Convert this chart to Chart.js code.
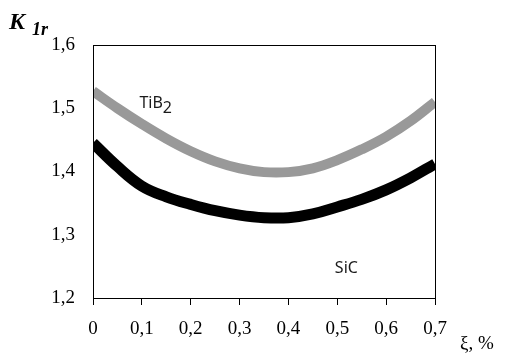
<!DOCTYPE html>
<html>
<head>
<meta charset="utf-8">
<script src="https://cdn.jsdelivr.net/npm/chart.js@4/dist/chart.umd.min.js"></script>
<style>
    html, body { margin: 0; padding: 0; background: #fff; }
    #wrap { width: 515px; height: 362px; }
</style>
</head>
<body>
<div id="wrap"><canvas id="k1rChart"></canvas></div>
<script>
const xi = [0, 0.05, 0.1, 0.15, 0.2, 0.25, 0.3, 0.35, 0.4, 0.45, 0.5, 0.55, 0.6, 0.65, 0.7];
const tib2 = [1.527, 1.500, 1.475, 1.452, 1.432, 1.416, 1.405, 1.399, 1.399, 1.405, 1.418, 1.435, 1.455, 1.480, 1.510];
const sic = [1.445, 1.408, 1.377, 1.360, 1.348, 1.338, 1.331, 1.327, 1.327, 1.333, 1.344, 1.356, 1.371, 1.390, 1.412];
const curveLabels = [
    { text: 'TiB', sub: '2', x: 0.095, y: 1.508 },
    { text: 'SiC', sub: '', x: 0.495, y: 1.247 }
];

const serif = '"Liberation Serif", "Times New Roman", serif';

const extras = {
    id: 'extras',
    afterDraw(chart) {
        const { ctx, chartArea: a, scales } = chart;
        ctx.save();
        // frame
        ctx.strokeStyle = '#000';
        ctx.lineWidth = 1;
        ctx.strokeRect(a.left + 0.5, a.top + 0.5, a.right - a.left, a.bottom - a.top);

        // curve labels
        ctx.fillStyle = '#1a1a1a';
        ctx.textBaseline = 'middle';
        ctx.textAlign = 'left';
        curveLabels.forEach((l) => {
            const px = scales.x.getPixelForValue(l.x);
            const py = scales.y.getPixelForValue(l.y);
            ctx.font = '16px "Noto Sans", "Open Sans", sans-serif';
            ctx.fillText(l.text, px, py);
            if (l.sub) {
                const w = ctx.measureText(l.text).width;
                ctx.fillText(l.sub, px + w, py + 5);
            }
        });

        // axis titles
        ctx.textBaseline = 'alphabetic';
        ctx.fillStyle = '#000';
        ctx.font = 'bold italic 24px ' + serif;
        ctx.fillText('K', 9, 29);
        ctx.font = 'bold italic 18px ' + serif;
        ctx.fillText('1r', 32, 35);
        ctx.font = '19px ' + serif;
        ctx.fillText('ξ, %', 460, 349);
        ctx.restore();
    }
};

new Chart(document.getElementById('k1rChart'), {
    type: 'line',
    data: {
        datasets: [
            {
                label: 'SiC',
                data: xi.map((x, i) => ({ x: x, y: sic[i] })),
                borderColor: '#000',
                borderWidth: 11,
                tension: 0.4,
                pointRadius: 0,
                clip: 0
            },
            {
                label: 'TiB2',
                data: xi.map((x, i) => ({ x: x, y: tib2[i] })),
                borderColor: '#999',
                borderWidth: 10,
                tension: 0.4,
                pointRadius: 0,
                clip: 0
            }
        ]
    },
    options: {
        responsive: true,
        maintainAspectRatio: false,
        animation: false,
        layout: { padding: { top: 45, right: 80, left: 0, bottom: 0 } },
        plugins: {
            legend: { display: false },
            tooltip: { enabled: false }
        },
        scales: {
            x: {
                type: 'linear',
                min: 0,
                max: 0.7,
                afterFit: (s) => { s.height = 64; },
                border: { display: true, color: '#000', width: 1 },
                grid: {
                    drawOnChartArea: false,
                    drawTicks: true,
                    tickLength: 7,
                    tickColor: '#000'
                },
                ticks: {
                    stepSize: 0.1,
                    color: '#000',
                    padding: 13,
                    font: { family: serif, size: 19 },
                    callback: (v) => v === 0 ? '0' : v.toFixed(1).replace('.', ',')
                }
            },
            y: {
                min: 1.2,
                max: 1.6,
                afterFit: (s) => { s.width = 93; },
                border: { display: true, color: '#000', width: 1 },
                grid: { display: false, drawTicks: false },
                ticks: {
                    stepSize: 0.1,
                    color: '#000',
                    padding: 18,
                    font: { family: serif, size: 19 },
                    callback: (v) => v.toFixed(1).replace('.', ',')
                }
            }
        }
    },
    plugins: [extras]
});
</script>
</body>
</html>
